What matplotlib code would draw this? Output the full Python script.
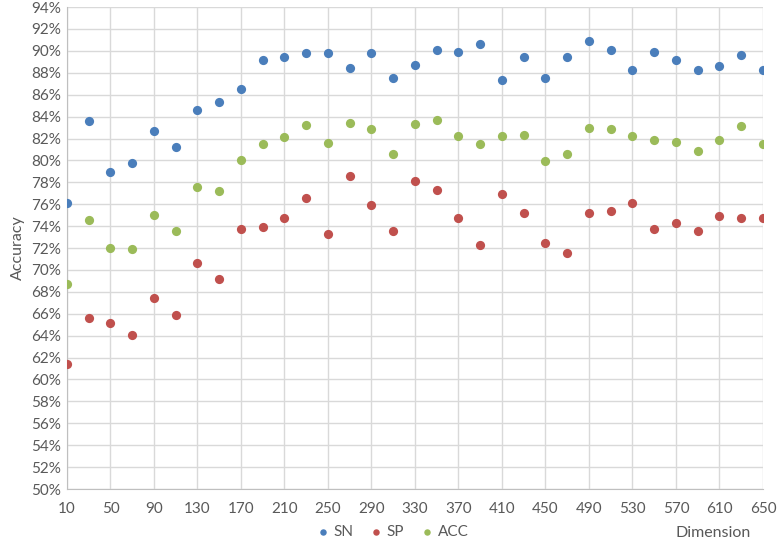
import matplotlib.pyplot as plt
from matplotlib.ticker import PercentFormatter

plt.rcParams['font.family'] = ['Lato', 'DejaVu Sans']

dims = list(range(10, 651, 20))

sn = [76.1, 83.6, 78.9, 79.8, 82.65, 81.2, 84.6, 85.3, 86.5, 89.15, 89.4, 89.85, 89.85,
      88.45, 89.85, 87.55, 88.7, 90.1, 89.9, 90.6, 87.35, 89.4, 87.55, 89.4, 90.9, 90.1,
      88.25, 89.9, 89.2, 88.25, 88.6, 89.65, 88.25]
sp = [61.4, 65.6, 65.15, 64.05, 67.45, 65.85, 70.6, 69.2, 73.75, 73.9, 74.7, 76.55, 73.3,
      78.55, 75.9, 73.55, 78.1, 77.3, 74.7, 72.25, 76.9, 75.2, 72.5, 71.55, 75.2, 75.4,
      76.1, 73.75, 74.25, 73.55, 74.95, 74.7, 74.7]
acc = [68.75, 74.6, 72.0, 71.9, 75.05, 73.55, 77.6, 77.25, 80.05, 81.5, 82.15, 83.2, 81.6,
       83.45, 82.9, 80.55, 83.35, 83.7, 82.2, 81.5, 82.2, 82.3, 79.95, 80.55, 83.0, 82.9,
       82.2, 81.85, 81.7, 80.9, 81.85, 83.1, 81.5]

series = [('SN', sn, '#4a7ebb'), ('SP', sp, '#c0504d'), ('ACC', acc, '#9bbb59')]

fig = plt.figure(figsize=(7.78, 5.43), dpi=100)
ax = fig.add_axes([0.0861, 0.0994, 0.8946, 0.8876])

for name, vals, col in series:
    ax.scatter(dims, vals, s=44, color=col, label=name, zorder=3, linewidths=0)

ax.set_xlim(10, 650)
ax.set_ylim(50, 94)
ax.set_xticks(range(10, 651, 40))
ax.set_yticks(range(50, 95, 2))
ax.yaxis.set_major_formatter(PercentFormatter(decimals=0))
ax.grid(True, color='#d9d9d9', linewidth=1)
ax.set_axisbelow(True)
for s in ['top', 'right']:
    ax.spines[s].set_visible(False)
for s in ['left', 'bottom']:
    ax.spines[s].set_color('#bfbfbf')
ax.tick_params(length=0, colors='#595959', labelsize=11, pad=9)
ax.tick_params(axis='y', pad=4)

ax.set_ylabel('Accuracy', fontsize=11.5, color='#595959', labelpad=5)
fig.text(0.917, 0.0184, 'Dimension', fontsize=11.5, color='#595959', ha='center', va='center')

ax.legend(loc='center', bbox_to_anchor=(0.468, -0.089), ncol=3, frameon=False,
          fontsize=11, labelcolor='#595959', handletextpad=0.3, columnspacing=1.1,
          handlelength=0.8, markerscale=0.7, borderaxespad=0, borderpad=0)

fig.savefig('out.png', dpi=100)
